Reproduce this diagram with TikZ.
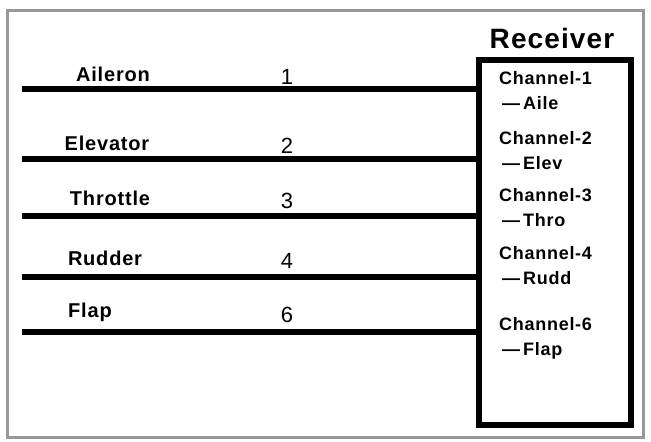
\documentclass[tikz,border=0pt]{standalone}
\usepackage{fontspec}
\setmainfont{Liberation Sans}
\newfontfamily\widefont[LetterSpace=4]{Liberation Sans}
\usetikzlibrary{positioning}
\tikzset{
  wire/.style={line width=6pt},
  sig/.style={font=\widefont\fontsize{20}{22}\selectfont\bfseries},
  num/.style={font=\fontsize{22}{24}\selectfont},
  chan/.style={font=\widefont\fontsize{18}{25}\selectfont\bfseries, align=left, anchor=north west, inner sep=0pt}
}
\begin{document}
\begin{tikzpicture}[x=1pt,y=-1pt]
\useasboundingbox (0,0) rectangle (651,442);
% Frame
\draw[gray!80, line width=3pt] (7,10) rectangle (643,437);

% Receiver
\node[font=\widefont\fontsize{28}{30}\selectfont\bfseries] (rxlabel) at (552,38) {Receiver};
\draw[line width=6pt] (479,60) rectangle (631,425);
\coordinate (rx) at (479,0);

% Channels
\foreach \name/\num/\ch/\short/\y/\tx/\ty/\cy in {
    Aileron/1/1/Aile/89/113/74/71,
    Elevator/2/2/Elev/159/107/143/131,
    Throttle/3/3/Thro/216/110/198/188,
    Rudder/4/4/Rudd/277/105/258/246,
    Flap/6/6/Flap/332/90/312/317}{
  \coordinate (start\num) at (22,\y);
  \draw[wire] (start\num) -- (rx |- start\num);
  \node[sig] (sig\num) at (\tx,\ty) {\name};
  \node[num] (num\num) at (287,\ty+3) {\num};
  \node[chan] (ch\num) at (499,\cy) {Channel-\ch\\\,—\,\short};
}
\end{tikzpicture}
\end{document}
